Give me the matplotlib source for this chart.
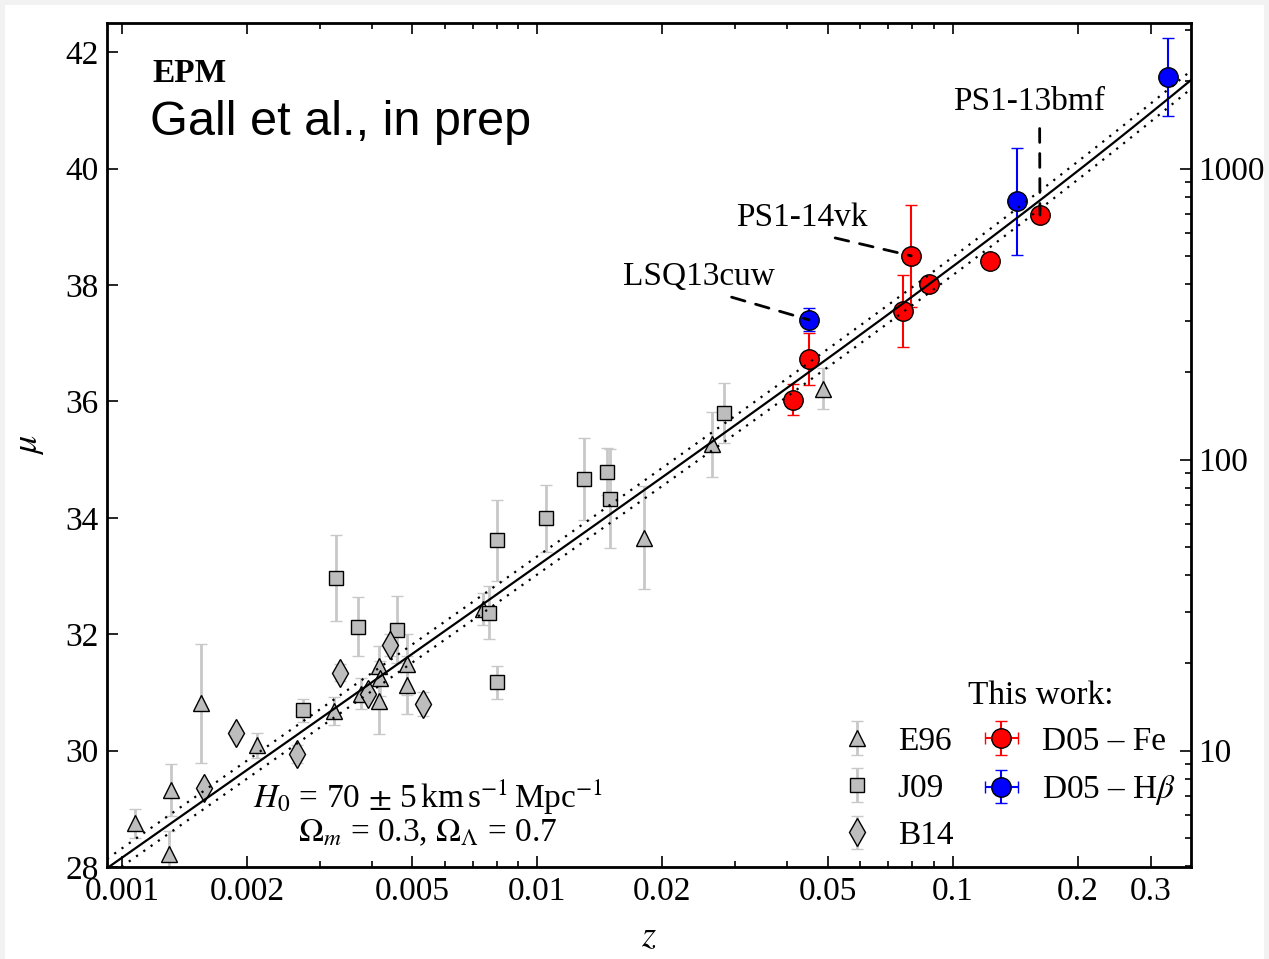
import numpy as np
import matplotlib
matplotlib.use('Agg')
import matplotlib.pyplot as plt
from matplotlib.ticker import FixedLocator, LogLocator, NullFormatter, FuncFormatter
from matplotlib.patches import Rectangle

plt.rcParams['font.family'] = ['Liberation Serif', 'DejaVu Serif']
plt.rcParams['mathtext.fontset'] = 'stix'

# E96 (triangles)
e96_z = [0.001075, 0.00131, 0.00130, 0.00155, 0.00211, 0.00324, 0.00377, 0.00416,
         0.00418, 0.00416, 0.00485, 0.00485, 0.00741, 0.0181, 0.0263, 0.0487]
e96_mu = [28.75, 29.32, 28.22, 30.81, 30.09, 30.68, 30.98, 31.46,
          31.24, 30.85, 31.48, 31.12, 32.43, 33.66, 35.26, 36.22]
e96_err = [0.25, 0.45, 0.40, 1.02, 0.22, 0.24, 0.26, 0.33,
           0.30, 0.57, 0.53, 0.50, 0.27, 0.88, 0.56, 0.36]

# J09 (squares)
j09_z = [0.00273, 0.00328, 0.00370, 0.00459, 0.00767, 0.00800, 0.00800,
         0.01051, 0.01295, 0.01474, 0.01500, 0.0281]
j09_mu = [30.69, 32.96, 32.13, 32.08, 32.37, 31.17, 33.61,
          33.99, 34.67, 34.79, 34.33, 35.80]
j09_err = [0.20, 0.74, 0.51, 0.57, 0.45, 0.29, 0.70,
           0.57, 0.70, 0.40, 0.85, 0.52]

# B14 (diamonds)
b14_z = [0.001577, 0.00188, 0.00264, 0.00335, 0.00392, 0.00442, 0.00531]
b14_mu = [29.36, 30.30, 29.94, 31.34, 30.98, 31.81, 30.80]
b14_err = [0.05, 0.05, 0.15, 0.14, 0.08, 0.19, 0.21]

# This work: D05 - Fe
fe_z = [0.0412, 0.0451, 0.0760, 0.0795, 0.0879, 0.1229, 0.1623]
fe_mu = [36.03, 36.73, 37.55, 38.50, 38.02, 38.41, 39.20]
fe_err = [0.26, 0.45, 0.62, 0.875, np.nan, np.nan, np.nan]

# This work: D05 - Hbeta
hb_z = [0.0451, 0.1433, 0.330]
hb_mu = [37.40, 39.44, 41.58]
hb_err = [0.20, 0.92, 0.67]
hb_zerr = [0.0013, np.nan, np.nan]

# named objects: label, series, index, text position
names = ['LSQ13cuw', 'PS1-14vk', 'PS1-13bmf']
name_series = ['hb', 'fe', 'fe']
name_idx = [0, 3, 6]
name_text_z = [0.0245, 0.0434, 0.1527]
name_text_mu = [38.14, 39.15, 41.14]
name_relx = [0.6, 0.6, 0.57]

# cosmology for the Hubble line
H0_vals = [70, 65, 75]
Om, OL = 0.3, 0.7
c_kms = 299792.458

xlim = (0.00092, 0.375)
ylim = (28, 42.5)
FS = 24


def dist_mod(z, H0):
    zz = np.linspace(0, z.max(), 20000)
    invE = 1.0 / np.sqrt(Om * (1 + zz)**3 + OL)
    integ = np.concatenate([[0], np.cumsum(0.5 * (invE[1:] + invE[:-1]) * np.diff(zz))])
    dc = c_kms / H0 * np.interp(z, zz, integ)
    dl = (1 + z) * dc
    return 5 * np.log10(dl) + 25


fig = plt.figure(figsize=(12.69, 9.59), dpi=100, facecolor='#f2f2f2')
fig.patches.append(Rectangle((5 / 1269, 0), 1259 / 1269, 1 - 5 / 959,
                             transform=fig.transFigure, facecolor='white',
                             edgecolor='none', zorder=-10))
ax = fig.add_axes([107 / 1269, 1 - 867 / 959, 1084 / 1269, 844 / 959])

gray_face = '#bdbdbd'
gray_err = '#c8c8c8'
h_e96 = ax.errorbar(e96_z, e96_mu, yerr=e96_err, fmt='^', ms=12, mfc=gray_face, mec='k',
                    mew=1, ecolor=gray_err, elinewidth=2, capsize=4.5, capthick=2, label='E96')
h_j09 = ax.errorbar(j09_z, j09_mu, yerr=j09_err, fmt='s', ms=10, mfc=gray_face, mec='k',
                    mew=1, ecolor=gray_err, elinewidth=2, capsize=4.5, capthick=2, label='J09')
h_b14 = ax.errorbar(b14_z, b14_mu, yerr=b14_err, fmt='d', ms=14, mfc=gray_face, mec='k',
                    mew=1, ecolor=gray_err, elinewidth=2, capsize=4.5, capthick=2, label='B14')

h_fe = ax.errorbar(fe_z, fe_mu, yerr=fe_err, xerr=np.full(len(fe_z), np.nan), fmt='o', ms=14,
                   mfc='red', mec='k', mew=1, ecolor='red', elinewidth=1.5, capsize=4.5,
                   capthick=1.5, label='D05 – Fe', zorder=4)
h_hb = ax.errorbar(hb_z, hb_mu, yerr=hb_err, xerr=hb_zerr, fmt='o', ms=14,
                   mfc='blue', mec='k', mew=1, ecolor='blue', elinewidth=1.5, capsize=4.5,
                   capthick=1.5, label=r'D05 – H$\beta$', zorder=4)

zline = np.logspace(np.log10(xlim[0]), np.log10(xlim[1]), 400)
ax.plot(zline, dist_mod(zline, H0_vals[0]), color='k', lw=1.6, zorder=6)
for H0 in H0_vals[1:]:
    ax.plot(zline, dist_mod(zline, H0), color='k', lw=1.6, ls=(0, (1, 3)), zorder=6)

series = {'fe': (fe_z, fe_mu), 'hb': (hb_z, hb_mu)}
for nm, s, i, tz, tm, rx in zip(names, name_series, name_idx, name_text_z, name_text_mu, name_relx):
    pz, pm = series[s]
    ax.annotate(nm, xy=(pz[i], pm[i]), xytext=(tz, tm), ha='center', va='center',
                fontsize=FS, zorder=7,
                arrowprops=dict(arrowstyle='-', ls=(0, (5, 4)), lw=2, color='k',
                                relpos=(rx, 0), shrinkA=6, shrinkB=0))

ax.set_xscale('log')
ax.set_xlim(xlim)
ax.set_ylim(ylim)
xt = [0.001, 0.002, 0.005, 0.01, 0.02, 0.05, 0.1, 0.2, 0.3]
ax.xaxis.set_major_locator(FixedLocator(xt))
ax.xaxis.set_major_formatter(FuncFormatter(lambda v, p: '%g' % v))
ax.xaxis.set_minor_locator(LogLocator(base=10, subs=np.arange(1, 10)))
ax.xaxis.set_minor_formatter(NullFormatter())
ax.set_yticks(np.arange(28, 43, 2))

ax.tick_params(which='both', direction='in', top=True, labelsize=FS, width=1.2)
ax.tick_params(which='major', length=8)
ax.tick_params(which='minor', length=4)
ax.tick_params(axis='y', which='both', right=False, pad=6)
ax.tick_params(axis='x', pad=7)
for sp in ax.spines.values():
    sp.set_linewidth(2)

ax.set_xlabel('$z$', fontsize=26, labelpad=10)
ax.set_ylabel(r'$\mu$', fontsize=26, labelpad=14)

ax2 = ax.twinx()
ax2.set_yscale('log')
ax2.set_ylim(10**((ylim[0] - 25) / 5), 10**((ylim[1] - 25) / 5))
ax2.yaxis.set_major_formatter(FuncFormatter(lambda v, p: '%d' % v))
ax2.yaxis.set_minor_formatter(NullFormatter())
ax2.tick_params(which='both', direction='in', labelsize=FS, width=1.2, pad=5)
ax2.tick_params(which='major', length=8)
ax2.tick_params(which='minor', length=4)

ax.text(0.0415, 0.940, 'EPM', transform=ax.transAxes, fontsize=FS, fontweight='bold',
        ha='left', va='center')
ax.text(0.0397, 0.882, 'Gall et al., in prep', transform=ax.transAxes, fontsize=35,
        family='Liberation Sans', ha='left', va='center')
ax.text(0.296, 0.064, r'$H_0$ = 70$\,\pm\,$5$\,$km$\,$s$^{-1}\,$Mpc$^{-1}$' + '\n'
        + r'$\Omega_m$ = 0.3, $\Omega_\Lambda$ = 0.7',
        transform=ax.transAxes, fontsize=FS, ha='center', va='center',
        multialignment='center', linespacing=1.0)
ax.text(0.861, 0.203, 'This work:', transform=ax.transAxes, fontsize=FS,
        ha='center', va='center')

leg_kw = dict(loc='upper left', frameon=False, fontsize=FS, handlelength=1.05,
              handletextpad=0.7, borderpad=0, borderaxespad=0, labelspacing=0.5,
              numpoints=1)
leg1 = ax.legend(handles=[h_e96, h_j09, h_b14], bbox_to_anchor=(0.6755, 0.167), **leg_kw)
ax.add_artist(leg1)
ax.legend(handles=[h_fe, h_hb], bbox_to_anchor=(0.809, 0.167), **leg_kw)

fig.savefig('out.png', dpi=100, facecolor=fig.get_facecolor())
